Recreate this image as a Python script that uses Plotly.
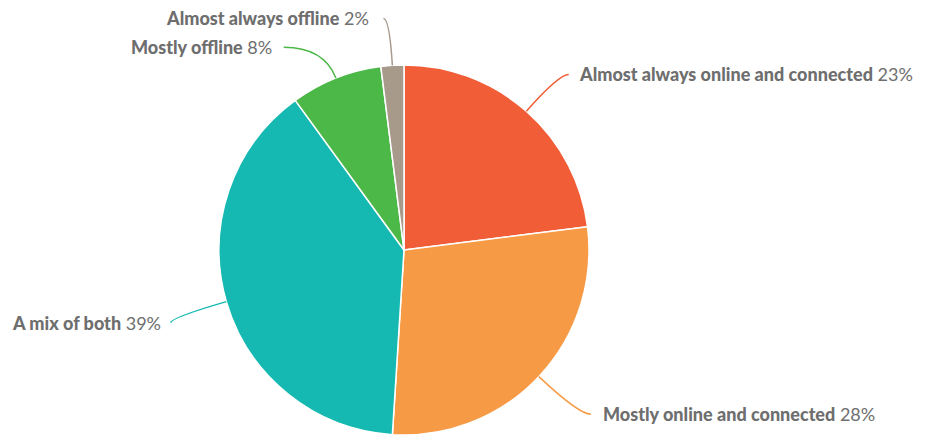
import math
import plotly.graph_objects as go

labels = ["Almost always online and connected", "Mostly online and connected",
          "A mix of both", "Mostly offline", "Almost always offline"]
values = [23, 28, 39, 8, 2]
colors = ["#F15D36", "#F79A45", "#16B9B2", "#4CB848", "#A89A8A"]

# figure is offset 8px by the page body margin; keep it inside the window
W, H = 926, 427
OFF = 8
CX, CY, R = 404 - OFF, 250 - OFF, 185
# leader line styling per slice: radial extension, horizontal stub, vertical nudge, text gap
ext = [49, 55, 58, 33, 47]
stub = [10, 12, 0, 40, 6]
nudge = [0, 0, 5, 0, 0]
gap = [8, 10, 8, 10, 12]

fig = go.Figure(go.Pie(
    labels=labels, values=values, sort=False, direction="clockwise", rotation=0,
    marker=dict(colors=colors, line=dict(color="white", width=1.5)),
    textinfo="none", hoverinfo="label+percent", showlegend=False,
    domain=dict(x=[(CX - R) / W, (CX + R) / W],
                y=[max(0, 1 - (CY + R) / H), 1 - (CY - R) / H]),
))

def px(x):
    return x / W

def py(y):
    return 1 - y / H

total = sum(values)
cum = 0
shapes, annos = [], []
for i, (lab, v) in enumerate(zip(labels, values)):
    mid = (cum + v / 2) / total * 2 * math.pi
    cum += v
    dx, dy = math.sin(mid), -math.cos(mid)
    x0, y0 = CX + R * dx, CY + R * dy
    xc, yc = CX + (R + ext[i]) * dx, CY + (R + ext[i]) * dy
    side = 1 if dx >= 0 else -1
    xe, ye = xc + side * stub[i], yc + nudge[i]
    path = f"M {px(x0)},{py(y0)} Q {px(xc)},{py(yc)} {px(xe)},{py(ye)}"
    shapes.append(dict(type="path", path=path, xref="paper", yref="paper",
                       line=dict(color=colors[i], width=1.5)))
    annos.append(dict(
        x=px(xe + side * gap[i]), y=py(ye), xref="paper", yref="paper",
        text=f"<span style='font-weight:900'>{lab}</span> {v}%", showarrow=False,
        xanchor="left" if side > 0 else "right", yanchor="middle",
        font=dict(family="Lato", size=18, color="#6E6E6E"),
    ))

fig.update_layout(
    width=W, height=H, margin=dict(l=0, r=0, t=0, b=0),
    paper_bgcolor="white", plot_bgcolor="white",
    shapes=shapes, annotations=annos,
)
fig.write_html("out.html")
